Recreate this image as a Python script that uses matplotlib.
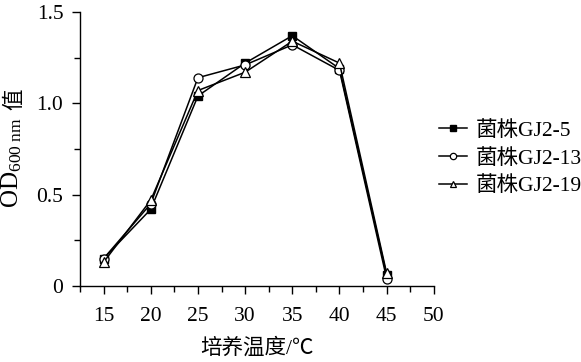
import matplotlib
matplotlib.use("Agg")
import matplotlib.pyplot as plt
from matplotlib.ticker import MultipleLocator

plt.rcParams['font.family'] = ['Liberation Serif', 'Noto Sans CJK SC']
plt.rcParams['mathtext.fontset'] = 'custom'
plt.rcParams['mathtext.rm'] = 'Liberation Serif'
plt.rcParams['mathtext.it'] = 'Liberation Serif:italic'

temps = [15, 20, 25, 30, 35, 40, 45]
gj2_5 = [0.15, 0.42, 1.04, 1.22, 1.37, 1.19, 0.06]
gj2_13 = [0.15, 0.45, 1.14, 1.21, 1.32, 1.18, 0.04]
gj2_19 = [0.13, 0.47, 1.07, 1.17, 1.34, 1.22, 0.07]
labels = ['菌株GJ2-5', '菌株GJ2-13', '菌株GJ2-19']

fig = plt.figure(figsize=(5.81, 3.62), dpi=100)
ax = fig.add_axes([0.1377, 0.21, 0.609, 0.757])

ax.plot(temps, gj2_5, color='black', lw=1.1, marker='s', ms=5.5,
        mfc='black', mec='black', label=labels[0], zorder=3)
ax.plot(temps, gj2_13, color='black', lw=1.1, marker='o', ms=6.5,
        mfc='white', mec='black', mew=0.9, label=labels[1], zorder=4)
ax.plot(temps, gj2_19, color='black', lw=1.1, marker='^', ms=6.5,
        mfc='white', mec='black', mew=0.9, label=labels[2], zorder=5)

ax.set_xlim(12.5, 50)
ax.set_ylim(0, 1.5)
ax.xaxis.set_minor_locator(MultipleLocator(2.5))
ax.yaxis.set_minor_locator(MultipleLocator(0.25))
ax.set_yticks([0, 0.5, 1.0, 1.5])
ax.set_yticklabels(['0', '0.5', '1.0', '1.5'])
ax.set_xticks([15, 20, 25, 30, 35, 40, 45, 50])

for s in ['top', 'right']:
    ax.spines[s].set_visible(False)
for s in ['left', 'bottom']:
    ax.spines[s].set_linewidth(1.0)
ax.tick_params(which='major', direction='out', length=6, width=1.0,
               labelsize=15.5, colors='black')
ax.tick_params(axis='x', which='major', pad=9)
ax.tick_params(axis='y', which='major', pad=6)
ax.tick_params(which='minor', direction='out', length=4, width=1.0)

ax.set_xlabel('培养温度/℃', fontsize=15.5, labelpad=9)

fig.text(0.020, 0.55, r'OD$_{600\ \mathrm{nm}}$', rotation=90, fontsize=18,
         ha='center', va='center')
fig.text(0.026, 0.725, '值', rotation=90, fontsize=15.5,
         ha='center', va='center')

leg = ax.legend(loc='center left', bbox_to_anchor=(0.99, 0.465), frameon=False,
                fontsize=15.5, markerscale=0.7, handlelength=1.3,
                handletextpad=0.4, labelspacing=0.35, borderaxespad=0)

fig.savefig('out.png', dpi=100)
